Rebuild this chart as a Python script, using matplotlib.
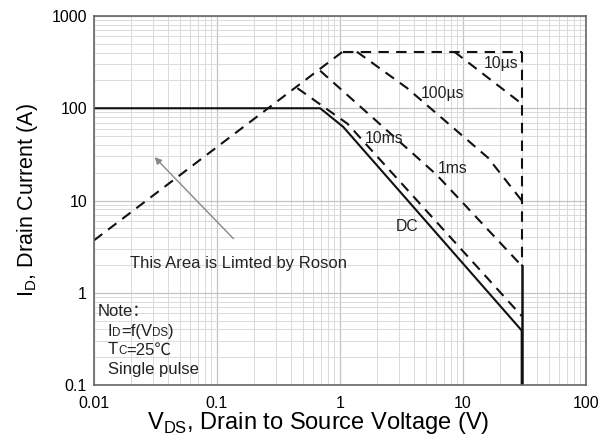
import matplotlib
matplotlib.use('Agg')
import matplotlib.pyplot as plt

plt.rcParams['font.family'] = ['Liberation Sans', 'DejaVu Sans']

# ── SOA curve data ────────────────────────────────────────────
rds_v = [0.01, 1.05]
rds_i = [3.7, 410]
top_v = [1.05, 30]
top_i = [410, 410]
us10_v = [8.5, 30]
us10_i = [410, 112]
us100_v = [1.37, 3.5, 16, 30]
us100_i = [410, 166, 29, 10]
ms1_v = [0.69, 6.1, 30]
ms1_i = [255, 19, 1.96]
ms10_v = [0.45, 1.15, 30]
ms10_i = [165, 68, 0.56]
dc_v = [0.01, 0.69, 1.06, 30, 30]
dc_i = [100, 100, 63, 0.39, 0.1]
edge_v = [30, 30]
edge_i = [410, 1.96]
edge_solid_i = [1.96, 0.1]

curve_labels = ['10µs', '100µs', '1ms', '10ms', 'DC']
label_v = [20.4, 6.8, 8.2, 2.3, 3.5]
label_i = [305, 146, 22, 47, 5.2]

# note lines: (text piece, relative size)
note_lines = [
    [('Note：', 1.0)],
    [('I', 1.0), ('D', 0.7), ('=f(V', 1.0), ('DS', 0.7), (')', 1.0)],
    [('T', 1.0), ('C', 0.7), ('=25℃', 1.0)],
    [('Single pulse', 1.0)],
]
note_x = [0.008, 0.028, 0.028, 0.028]
note_y = [0.198, 0.144, 0.095, 0.041]

fig = plt.figure(figsize=(6.12, 4.46), dpi=100)
ax = fig.add_axes([94/612, 1-385/446, 492/612, 369/446])
ax.set_xscale('log'); ax.set_yscale('log')
ax.set_xlim(0.01, 100); ax.set_ylim(0.1, 1000)

dash = dict(color='#111111', lw=1.5, ls=(0, (5, 3.5)))
for v, i in [(rds_v, rds_i), (top_v, top_i), (us10_v, us10_i),
             (us100_v, us100_i), (ms1_v, ms1_i), (ms10_v, ms10_i),
             (edge_v, edge_i)]:
    ax.plot(v, i, **dash)
ax.plot(dc_v, dc_i, color='#111111', lw=1.5)
ax.plot(edge_v, edge_solid_i, color='#111111', lw=1.8)

for t, v, i in zip(curve_labels, label_v, label_i):
    ax.text(v, i, t, fontsize=11.3, ha='center', va='center', color='#222222')

ax.annotate('', xy=(0.030, 31), xytext=(0.141, 3.67),
            arrowprops=dict(arrowstyle='-|>', color='#888888', lw=1,
                            mutation_scale=10))
ax.text(0.0196, 2.07, 'This Area is Limted by Roson', fontsize=12,
        ha='left', va='center', color='#222222')

# Note block, small letters drawn as separate pieces
fam = ['Liberation Sans', 'Noto Sans CJK SC', 'DejaVu Sans']
for parts, x, y in zip(note_lines, note_x, note_y):
    prev = None
    for txt, sc in parts:
        if prev is None:
            prev = ax.text(x, y, txt, transform=ax.transAxes, fontsize=12*sc,
                           ha='left', va='center', color='#222222', family=fam)
        else:
            prev = ax.annotate(txt, xy=(1, 0), xycoords=prev, fontsize=12*sc,
                               ha='left', va='bottom', color='#222222', family=fam)

ax.grid(True, which='major', color='#c4c4c4', lw=0.9)
ax.grid(True, which='minor', color='#dadada', lw=0.7)
ax.tick_params(which='both', length=0, labelsize=11.5)
ax.tick_params(axis='x', pad=8)
ax.tick_params(axis='y', pad=5)
ax.set_xticks([0.01, 0.1, 1, 10, 100])
ax.set_xticklabels(['0.01', '0.1', '1', '10', '100'])
ax.set_yticks([0.1, 1, 10, 100, 1000])
ax.set_yticklabels(['0.1', '1', '10', '100', '1000'])
for s in ax.spines.values():
    s.set_color('#666666'); s.set_linewidth(1.2)

ax.set_xlabel('V$_{\\mathregular{DS}}$, Drain to Source Voltage (V)', fontsize=17)
ax.xaxis.set_label_coords(0.455, -0.068)
ax.set_ylabel('I$_{\\mathregular{D}}$, Drain Current (A)', fontsize=15.5, labelpad=8)

fig.savefig('out.png', dpi=100)
